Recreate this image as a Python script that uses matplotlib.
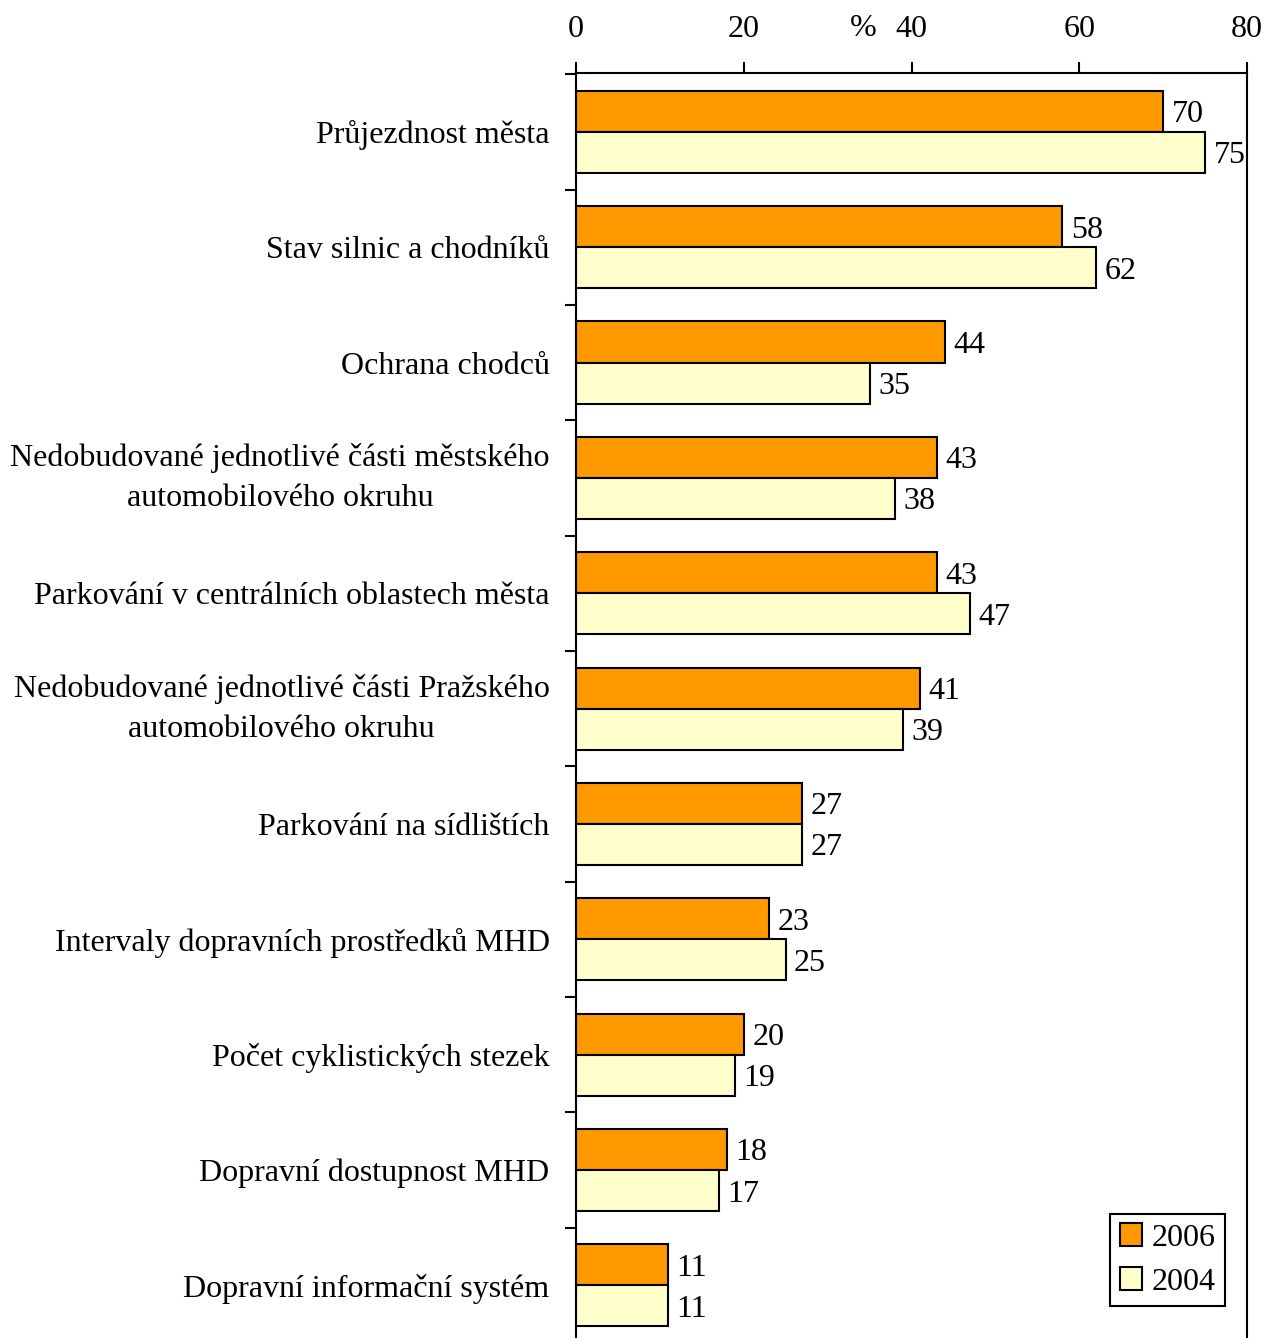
import matplotlib
matplotlib.use("Agg")
import matplotlib.pyplot as plt
import numpy as np

plt.rcParams["font.family"] = ["Liberation Serif", "DejaVu Serif"]

categories = [
    "Průjezdnost města",
    "Stav silnic a chodníků",
    "Ochrana chodců",
    "Nedobudované jednotlivé části městského\nautomobilového okruhu",
    "Parkování v centrálních oblastech města",
    "Nedobudované jednotlivé části Pražského\nautomobilového okruhu",
    "Parkování na sídlištích",
    "Intervaly dopravních prostředků MHD",
    "Počet cyklistických stezek",
    "Dopravní dostupnost MHD",
    "Dopravní informační systém",
]
values_2006 = [70, 58, 44, 43, 43, 41, 27, 23, 20, 18, 11]
values_2004 = [75, 62, 35, 38, 47, 39, 27, 25, 19, 17, 11]
series_labels = ["2006", "2004"]
x_ticks = [0, 20, 40, 60, 80]

color_2006 = "#FF9900"
color_2004 = "#FFFFCC"
fs = 23

fig = plt.figure(figsize=(12.67, 13.38), dpi=100)
ax = fig.add_axes([576 / 1267, 1 - 1343 / 1338, 671 / 1267, 1270 / 1338])

y = np.arange(len(categories))
h = 0.356
b1 = ax.barh(y - h / 2, values_2006, height=h, color=color_2006,
             edgecolor="black", linewidth=1.5, label=series_labels[0])
b2 = ax.barh(y + h / 2, values_2004, height=h, color=color_2004,
             edgecolor="black", linewidth=1.5, label=series_labels[1])

for bars, vals in ((b1, values_2006), (b2, values_2004)):
    for rect, v in zip(bars, vals):
        ax.text(v + 1.0, rect.get_y() + rect.get_height() / 2, str(v),
                va="center_baseline", ha="left", fontsize=fs)

ax.set_xlim(0, 80)
ax.set_ylim(len(categories) - 0.5, -0.51)

# x axis on top
ax.xaxis.tick_top()
ax.set_xticks(x_ticks)
ax.set_xticklabels([str(t) for t in x_ticks], fontsize=fs)
ax.tick_params(axis="x", direction="out", length=8, width=1.5, pad=13)
ax.text(34.2, 1 + 0.035, "%", transform=ax.get_xaxis_transform(),
        ha="center", va="center", fontsize=fs)

# category labels at centers, ticks between groups
ax.set_yticks(y)
ax.set_yticklabels(categories, fontsize=fs, linespacing=1.5)
for lab in ax.get_yticklabels():
    lab.set_multialignment("center")
    if "\n" in lab.get_text():
        lab.set_verticalalignment("center")
ax.tick_params(axis="y", which="major", length=0, pad=19)
ax.set_yticks(np.arange(len(categories) + 1) - 0.5, minor=True)
ax.tick_params(axis="y", which="minor", direction="out", length=8, width=1.5)

for side in ("left", "top", "right"):
    ax.spines[side].set_linewidth(1.5)
ax.spines["bottom"].set_visible(False)

leg = ax.legend(loc="lower left", bbox_to_anchor=(0.796, 0.029),
                borderaxespad=0, fontsize=fs, fancybox=False,
                edgecolor="black", framealpha=1, handlelength=0.7,
                handleheight=0.7, handletextpad=0.3, labelspacing=0.45,
                borderpad=0.3)
leg.get_frame().set_linewidth(1.5)

fig.savefig("out.png", dpi=100)
